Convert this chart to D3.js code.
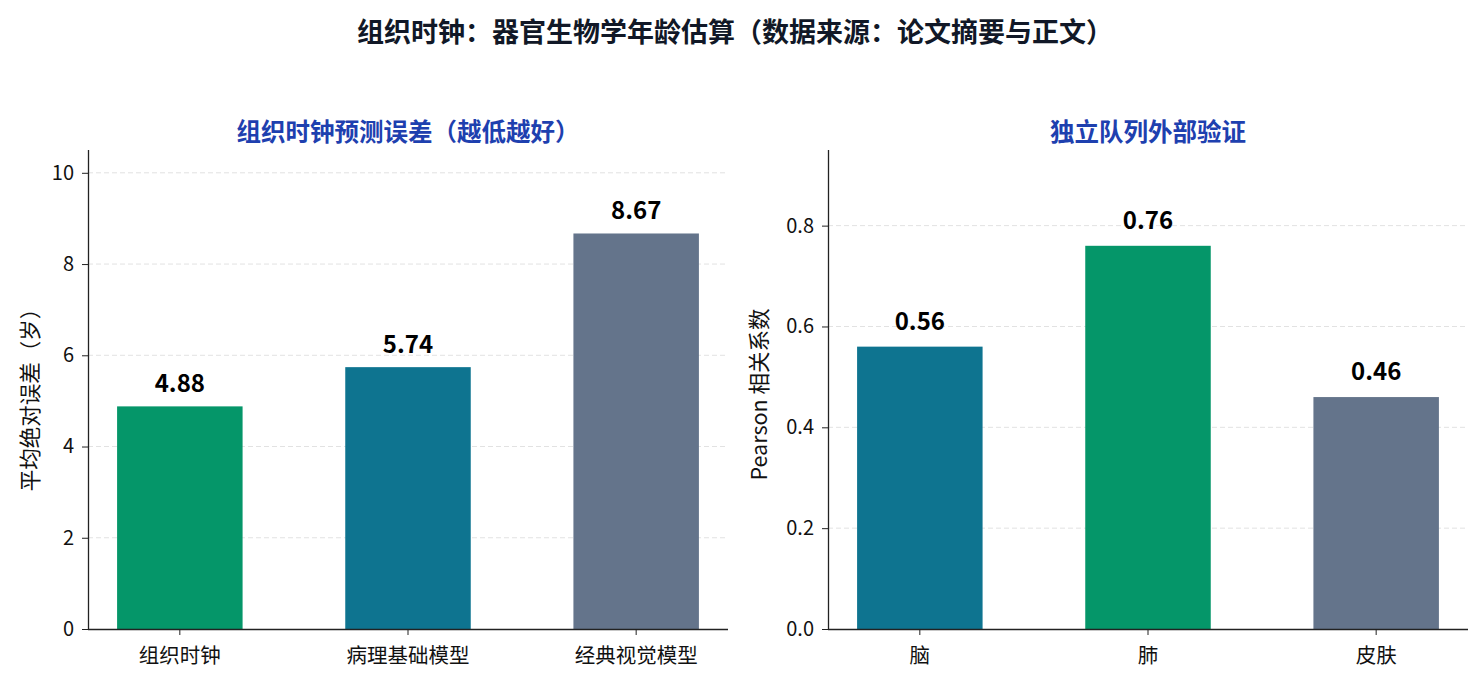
<!DOCTYPE html>
<meta charset="utf-8">
<style>
body { margin: 0; background: #fff; }
text { font-family: "Noto Sans CJK SC", "Noto Sans", sans-serif; }
.tick line { stroke: #222; }
.domain { stroke: #222; stroke-width: 1.3; }
</style>
<svg width="1484" height="683"></svg>
<script src="https://d3js.org/d3.v7.min.js"></script>
<script>

// data
var maeModels = ["组织时钟", "病理基础模型", "经典视觉模型"];
var maeValues = [4.88, 5.74, 8.67];
var organs = ["脑", "肺", "皮肤"];
var pearsonValues = [0.56, 0.76, 0.46];
var maeTicks = [0, 2, 4, 6, 8, 10];
var pearsonTicks = [0, 0.2, 0.4, 0.6, 0.8];

var green = "#059669", teal = "#0e7490", slate = "#64748b";

var svg = d3.select("svg");

svg.append("text")
    .attr("x", 735).attr("y", 30)
    .attr("dominant-baseline", "central")
    .attr("text-anchor", "middle")
    .attr("font-size", 27).attr("font-weight", "bold")
    .attr("fill", "#111827")
    .text("组织时钟：器官生物学年龄估算（数据来源：论文摘要与正文）");

function panel(opt) {
  var left = opt.left, right = opt.right, top = 150, bottom = 629;

  var x = d3.scaleBand()
      .domain(opt.cats)
      .range([left, right])
      .paddingInner(0.45)
      .paddingOuter(0.1275);

  var y = d3.scaleLinear()
      .domain([0, opt.ymax])
      .range([bottom, top]);

  var g = svg.append("g");

  // grid
  g.append("g").selectAll("line")
    .data(opt.ticks.filter(function(d) { return d > 0; }))
    .enter().append("line")
      .attr("x1", left).attr("x2", right)
      .attr("y1", function(d) { return y(d); })
      .attr("y2", function(d) { return y(d); })
      .attr("stroke", "#e2e2e2")
      .attr("stroke-width", 1)
      .attr("stroke-dasharray", "5,3");

  g.append("g").selectAll("rect")
    .data(opt.values)
    .enter().append("rect")
      .attr("x", function(d, i) { return x(opt.cats[i]); })
      .attr("y", function(d) { return y(d); })
      .attr("width", x.bandwidth())
      .attr("height", function(d) { return bottom - y(d); })
      .attr("fill", function(d, i) { return opt.colors[i]; });

  g.append("g").selectAll("text")
    .data(opt.values)
    .enter().append("text")
      .attr("x", function(d, i) { return x(opt.cats[i]) + x.bandwidth() / 2; })
      .attr("y", function(d) { return y(d) - opt.labelGap; })
      .attr("text-anchor", "middle")
      .attr("font-size", 24).attr("font-weight", "bold")
      .attr("fill", "#000")
      .text(function(d) { return d.toFixed(2); });

  var ya = g.append("g")
      .attr("transform", "translate(" + left + ",0)")
      .call(d3.axisLeft(y).tickValues(opt.ticks).tickSize(6).tickPadding(8).tickFormat(opt.fmt));
  ya.selectAll("text").attr("font-size", 20).attr("fill", "#111");
  ya.select(".domain").attr("d", "M0.5," + top + "V" + bottom);

  var xa = g.append("g")
      .attr("transform", "translate(0," + bottom + ")")
      .call(d3.axisBottom(x).tickSize(6));
  xa.selectAll("text")
      .attr("y", 25).attr("dy", null)
      .attr("dominant-baseline", "central")
      .attr("font-size", 20.5).attr("fill", "#111");
  xa.select(".domain").attr("d", "M" + left + ",0.5H" + right);

  g.append("text")
      .attr("transform", "translate(" + opt.ylabelX + "," + ((top + bottom) / 2 + 5) + ") rotate(-90)")
      .attr("dominant-baseline", "central")
      .attr("text-anchor", "middle")
      .attr("font-size", 21.5).attr("fill", "#111")
      .text(opt.ylabel);

  g.append("text")
      .attr("x", (left + right) / 2).attr("y", 130)
      .attr("dominant-baseline", "central")
      .attr("text-anchor", "middle")
      .attr("font-size", 24.5).attr("font-weight", "bold")
      .attr("fill", "#1e40af")
      .text(opt.title);
}

panel({
  left: 88, right: 728, cats: maeModels, values: maeValues,
  colors: [green, teal, slate], ymax: 10.5, ticks: maeTicks,
  fmt: d3.format("d"), labelGap: 14, ylabelX: 28,
  ylabel: "平均绝对误差（岁）", title: "组织时钟预测误差（越低越好）"
});

panel({
  left: 828, right: 1468, cats: organs, values: pearsonValues,
  colors: [teal, green, slate], ymax: 0.95, ticks: pearsonTicks,
  fmt: d3.format(".1f"), labelGap: 17, ylabelX: 757,
  ylabel: "Pearson 相关系数", title: "独立队列外部验证"
});

</script>
